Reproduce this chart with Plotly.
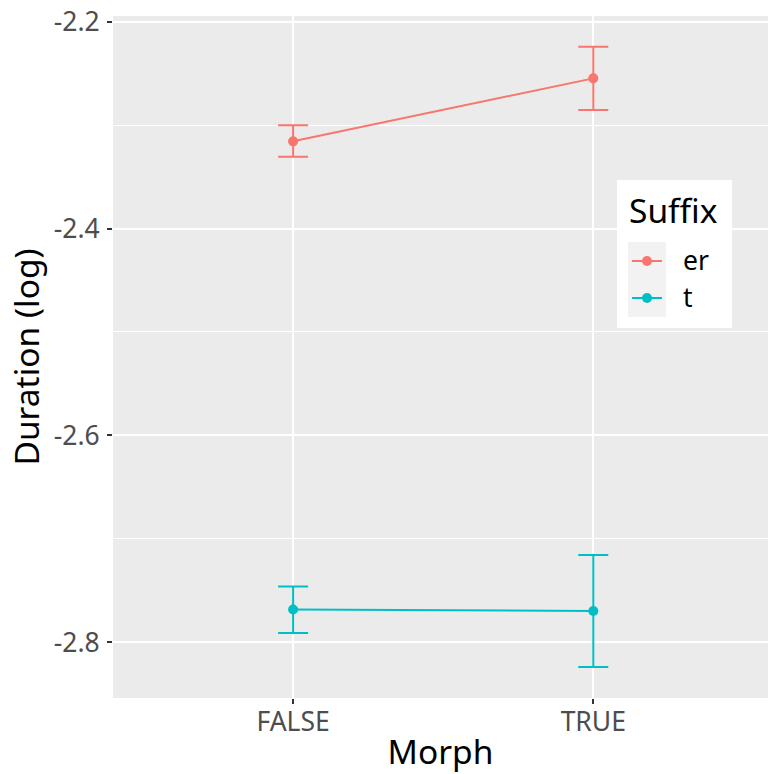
import plotly.graph_objects as go

# Estimated marginal means of log duration, by morphological status and suffix
morph = ["FALSE", "TRUE"]
suffixes = ["er", "t"]

er_mean = [-2.3157, -2.2548]
er_upper = [-2.3002, -2.2242]
er_lower = [-2.3306, -2.2854]

t_mean = [-2.7684, -2.7698]
t_upper = [-2.7462, -2.7156]
t_lower = [-2.7910, -2.8239]

colors = {"er": "#F8766D", "t": "#00BFC4"}

W, H = 768, 774
L, R, T, B = 113, 0, 16, 76

series = {
    "er": (er_mean, er_upper, er_lower),
    "t": (t_mean, t_upper, t_lower),
}

fig = go.Figure()
for name in suffixes:
    mean, upper, lower = series[name]
    fig.add_trace(go.Scatter(
        x=morph, y=mean, name=name, mode="lines+markers",
        line=dict(color=colors[name], width=2),
        marker=dict(color=colors[name], size=10),
        error_y=dict(
            type="data", symmetric=False,
            array=[u - m for u, m in zip(upper, mean)],
            arrayminus=[m - l for m, l in zip(mean, lower)],
            color=colors[name], thickness=2, width=15,
        ),
        showlegend=False,
    ))

font = "Noto Sans"
TICK = 26.5
TITLE = 33.5

def px_to_paper_x(px):
    return (px - L) / (W - L - R)

def px_to_paper_y(py):
    return (H - B - py) / (H - T - B)

# ggplot-style legend: white box, grey key area, line+point keys and labels
shapes = [
    dict(type="rect", xref="paper", yref="paper", layer="above",
         x0=px_to_paper_x(617), x1=px_to_paper_x(732),
         y0=px_to_paper_y(328), y1=px_to_paper_y(180),
         fillcolor="white", line=dict(width=0)),
    dict(type="rect", xref="paper", yref="paper", layer="above",
         x0=px_to_paper_x(628), x1=px_to_paper_x(666),
         y0=px_to_paper_y(317), y1=px_to_paper_y(242),
         fillcolor="#F2F2F2", line=dict(width=0)),
]
annotations = [
    dict(text="Suffix", xref="paper", yref="paper", showarrow=False,
         x=px_to_paper_x(627), y=px_to_paper_y(210),
         xanchor="left", yanchor="middle",
         font=dict(size=TITLE, family=font, color="black")),
]
key_y = {"er": 261, "t": 298}
for name in suffixes:
    ky = key_y[name]
    shapes.append(dict(type="line", xref="paper", yref="paper", layer="above",
                       x0=px_to_paper_x(632), x1=px_to_paper_x(662),
                       y0=px_to_paper_y(ky), y1=px_to_paper_y(ky),
                       line=dict(color=colors[name], width=2)))
    shapes.append(dict(type="circle", xref="paper", yref="paper", layer="above",
                       x0=px_to_paper_x(642), x1=px_to_paper_x(652),
                       y0=px_to_paper_y(ky + 5), y1=px_to_paper_y(ky - 5),
                       fillcolor=colors[name], line=dict(width=0)))
    annotations.append(dict(text=name, xref="paper", yref="paper", showarrow=False,
                            x=px_to_paper_x(681), y=px_to_paper_y(ky - 1),
                            xanchor="left", yanchor="middle",
                            font=dict(size=TICK, family=font, color="black")))

fig.update_layout(
    width=W, height=H,
    margin=dict(l=L, r=R, t=T, b=B, pad=0),
    paper_bgcolor="white",
    plot_bgcolor="#EBEBEB",
    font=dict(family=font, color="black"),
    shapes=shapes,
    annotations=annotations,
    showlegend=False,
    xaxis=dict(
        type="category",
        range=[-0.6, 1.582],
        showgrid=True, gridcolor="white", gridwidth=2,
        zeroline=False,
        ticks="outside", ticklen=5, tickwidth=2, tickcolor="#333333",
        tickfont=dict(size=TICK, color="#4D4D4D", family=font),
        ticklabelstandoff=-5,
        title=dict(text="Morph", font=dict(size=TITLE, color="black", family=font), standoff=4),
        showline=False,
    ),
    yaxis=dict(
        range=[-2.8539, -2.1945],
        tickvals=[-2.8, -2.6, -2.4, -2.2],
        ticktext=["-2.8", "-2.6", "-2.4", "-2.2"],
        showgrid=True, gridcolor="white", gridwidth=2,
        minor=dict(tickvals=[-2.7, -2.5, -2.3], showgrid=True, gridcolor="white", gridwidth=1, ticks=""),
        zeroline=False,
        ticks="outside", ticklen=5, tickwidth=2, tickcolor="#333333",
        tickfont=dict(size=TICK, color="#4D4D4D", family=font),
        ticklabelstandoff=2,
        title=dict(text="Duration (log)", font=dict(size=TITLE, color="black", family=font), standoff=4),
        showline=False,
    ),
)

fig.write_html("out.html")
